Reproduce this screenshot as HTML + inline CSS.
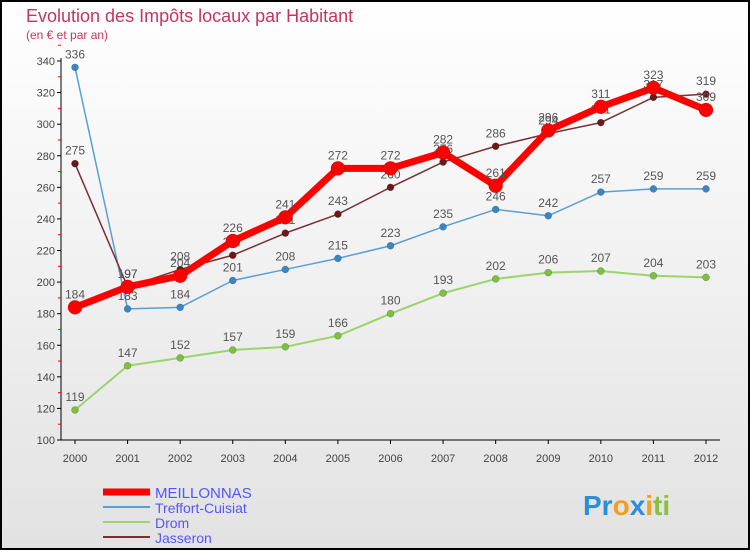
<!DOCTYPE html>
<html><head><meta charset="utf-8"><style>
body{margin:0;}
#wrap{width:750px;height:550px;position:relative;font-family:"Liberation Sans",sans-serif;}
</style></head><body>
<div id="wrap">
<svg id="svg" width="750" height="550" xmlns="http://www.w3.org/2000/svg">
<defs><linearGradient id="bg" x1="0" y1="0" x2="0" y2="1"><stop offset="0" stop-color="#ffffff"/><stop offset="1" stop-color="#e2e2e2"/></linearGradient></defs>
<rect x="1" y="1" width="748" height="548" fill="url(#bg)" stroke="#000" stroke-width="2"/>
<text x="26" y="22" font-size="18" fill="#c8325f">Evolution des Impôts locaux par Habitant</text>
<text x="26" y="39" font-size="12" fill="#c8325f">(en € et par an)</text>
<g id="axes"></g><g id="series"></g>
<g>
<line x1="103" y1="492" x2="150" y2="492" stroke="#ff0000" stroke-width="7"/>
<text x="155" y="498" font-size="15" fill="#5555ff">MEILLONNAS</text>
<line x1="103" y1="507" x2="150" y2="507" stroke="#5a9fd4" stroke-width="2"/>
<text x="155" y="513" font-size="14" fill="#5555ff">Treffort-Cuisiat</text>
<line x1="103" y1="522" x2="150" y2="522" stroke="#9ad46a" stroke-width="2"/>
<text x="155" y="528" font-size="14" fill="#5555ff">Drom</text>
<line x1="103" y1="537" x2="150" y2="537" stroke="#7a3030" stroke-width="2"/>
<text x="155" y="543" font-size="14" fill="#5555ff">Jasseron</text>
</g>
<text x="583" y="515" font-size="28" font-weight="bold"><tspan fill="#2a8fd8">Pr</tspan><tspan fill="#f0a020">o</tspan><tspan fill="#2a8fd8">x</tspan><tspan fill="#f0a020">i</tspan><tspan fill="#8ac040">ti</tspan></text>
</svg></div>
<script>
const years=["2000","2001","2002","2003","2004","2005","2006","2007","2008","2009","2010","2011","2012"];
const yTicks=[100,120,140,160,180,200,220,240,260,280,300,320,340];
const meillonnas=[184,197,204,226,241,272,272,282,261,296,311,323,309];
const treffort=[336,183,184,201,208,215,223,235,246,242,257,259,259];
const drom=[119,147,152,157,159,166,180,193,202,206,207,204,203];
const jasseron=[275,197,208,217,231,243,260,276,286,294,301,317,319];
const NS="http://www.w3.org/2000/svg";
const xS=i=>75+i*(706-75)/12;
const yS=v=>440-(v-100)*379/240;
function mk(t,a,p){const e=document.createElementNS(NS,t);for(const k in a)e.setAttribute(k,a[k]);p.appendChild(e);return e;}
const ax=document.getElementById('axes');
let l=mk('line',{x1:61,y1:58,x2:61,y2:440,stroke:'#000'},ax);


l=mk('line',{x1:61,y1:440,x2:720,y2:440,stroke:'#000'},ax);


yTicks.forEach(v=>{
 mk('line',{x1:57,y1:yS(v),x2:61,y2:yS(v),stroke:'#000'},ax);
 mk('line',{x1:58,y1:yS(v+10),x2:61,y2:yS(v+10),stroke:'#f00'},ax);
 const t=mk('text',{x:55,y:yS(v)+4,'font-size':11,'text-anchor':'end',fill:'#444'},ax);t.textContent=v;
 
 
});
years.forEach((y,i)=>{
 mk('line',{x1:xS(i),y1:440,x2:xS(i),y2:444,stroke:'#000'},ax);
 const t=mk('text',{x:xS(i),y:462,'font-size':11,'text-anchor':'middle',fill:'#444'},ax);t.textContent=y;
 
 
});
const sg=document.getElementById('series');
function draw(vals,color,w,r,name,dot){
 const g=mk('g',{},sg);
 
 
 mk('polyline',{points:vals.map((v,i)=>xS(i)+','+yS(v)).join(' '),fill:'none',stroke:color,'stroke-width':w,'stroke-linejoin':'round'},g);
 vals.forEach((v,i)=>{
  const c=mk('circle',{cx:xS(i),cy:yS(v),r:r,fill:dot,stroke:'rgba(0,0,0,0.3)','stroke-width':0.5},g);
  
  
  const t=mk('text',{x:xS(i),y:yS(v)-9,'font-size':12,'text-anchor':'middle',fill:'#555'},g);t.textContent=v;
 });
}
draw(drom,'#9ad46a',2,3.5,'series-drom','#7cc040');
draw(treffort,'#5a9fd4',1.5,3.5,'series-treffort','#3a85c4');
draw(jasseron,'#7a3030',1.5,3.5,'series-jasseron','#6a1a1a');
draw(meillonnas,'#ff0000',7,7,'series-meillonnas','#ff0000');
</script>
</body></html>
